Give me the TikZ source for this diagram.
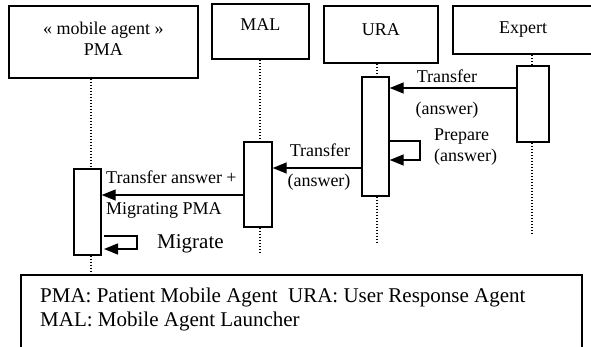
\documentclass[tikz,border=0pt]{standalone}
\usepackage{fontspec}
\setmainfont{Liberation Serif}
\usetikzlibrary{arrows.meta,calc}
\begin{document}
\begin{tikzpicture}[x=1pt,y=-1pt,
  head/.style={draw,line width=1.8pt,rectangle,inner sep=0pt,anchor=north west,
    align=center,font=\fontsize{18}{21}\selectfont},
  actbar/.style={draw,line width=1.7pt,rectangle,inner sep=0pt,anchor=north west},
  life/.style={line width=1.2pt,dash pattern=on 1.2pt off 1.8pt},
  msg/.style={line width=1.4pt,-{Triangle[length=14pt,width=11pt]}},
  lbl/.style={inner sep=0pt,font=\fontsize{18}{21}\selectfont},
  big/.style={inner sep=0pt,font=\fontsize{21}{24}\selectfont}
]
\useasboundingbox (0,0) rectangle (591,347);

% participants
\node[head,minimum width=189pt,minimum height=72pt] (pma) at (8,5) {};
\node at ($(pma.north)+(0,25)$) [lbl] {« mobile agent »};
\node at ($(pma.north)+(0,45)$) [lbl] {PMA};
\node[head,minimum width=97pt,minimum height=55pt] (mal) at (211,3) {};
\node at ($(mal.north)+(0,22)$) [lbl] {MAL};
\node[head,minimum width=114pt,minimum height=57pt] (ura) at (323,5) {};
\node at ($(ura.north)+(0,25)$) [lbl] {URA};
\node[head,minimum width=150pt,minimum height=48pt] (exp) at (452,5) {};
\node at ($(exp.north west)+(71,25)$) [lbl] {Expert};

% activation bars
\node[actbar,minimum width=27pt,minimum height=86pt] (pmaact) at (73,168) {};
\node[actbar,minimum width=28pt,minimum height=85pt] (malact) at (243,141) {};
\node[actbar,minimum width=27pt,minimum height=119pt] (uraact) at (361,76) {};
\node[actbar,minimum width=32pt,minimum height=76pt] (expact) at (516,65) {};

% legend
\node[draw,line width=1.8pt,rectangle,inner sep=0pt,anchor=north west,
  minimum width=561pt,minimum height=90pt] (legend) at (20,274) {};
\node[big,anchor=west,align=left] at ($(legend.north west)+(20,23)$)
  {PMA: Patient Mobile Agent\ \ URA: User Response Agent};
\node[big,anchor=west,align=left] at ($(legend.north west)+(20,47)$)
  {MAL: Mobile Agent Launcher};

% lifelines
\coordinate (lp) at (91,0);
\coordinate (lm) at (260,0);
\coordinate (lu) at (377,0);
\coordinate (le) at (532,0);
\coordinate (endm) at (0,252);
\coordinate (endu) at (0,243);
\coordinate (ende) at (0,235);
\draw[life] (pma.south -| lp) -- (pmaact.north -| lp);
\draw[life] (pmaact.south -| lp) -- (legend.north -| lp);
\draw[life] (mal.south -| lm) -- (malact.north -| lm);
\draw[life] (malact.south -| lm) -- (endm -| lm);
\draw[life] (ura.south -| lu) -- (uraact.north -| lu);
\draw[life] (uraact.south -| lu) -- (endu -| lu);
\draw[life] (exp.south -| le) -- (expact.north -| le);
\draw[life] (expact.south -| le) -- (ende -| le);

% messages
\coordinate (m1) at (0,88);
\coordinate (m2) at (0,168);
\coordinate (m3) at (0,195);
\draw[msg] (expact.west |- m1) -- (uraact.east |- m1);
\node[lbl] at (447,76) {Transfer};
\node[lbl] at (447,110) {(answer)};

% self call on URA
\coordinate (p1) at (0,141);
\coordinate (p2) at (0,160);
\coordinate (px) at (420,0);
\draw[msg] (uraact.east |- p1) -- (px |- p1) -- (px |- p2) -- (uraact.east |- p2);
\node[lbl,anchor=west] at (434,137) {Prepare};
\node[lbl,anchor=west] at (434,157) {(answer)};

\draw[msg] (uraact.west |- m2) -- (malact.east |- m2);
\node[lbl] at (320,150) {Transfer};
\node[lbl] at (319,182) {(answer)};

\draw[msg] (malact.west |- m3) -- (pmaact.east |- m3);
\node[lbl,anchor=west] at (106,177) {Transfer answer +};
\node[lbl,anchor=west] at (106,210) {Migrating PMA};

% self call on PMA
\coordinate (q1) at (104,236);
\coordinate (q2) at (104,249);
\coordinate (qx) at (137,0);
\draw[msg] (q1) -- (qx |- q1) -- (qx |- q2) -- (q2);
\node[big,anchor=west] at (157,244) {Migrate};
\end{tikzpicture}
\end{document}
